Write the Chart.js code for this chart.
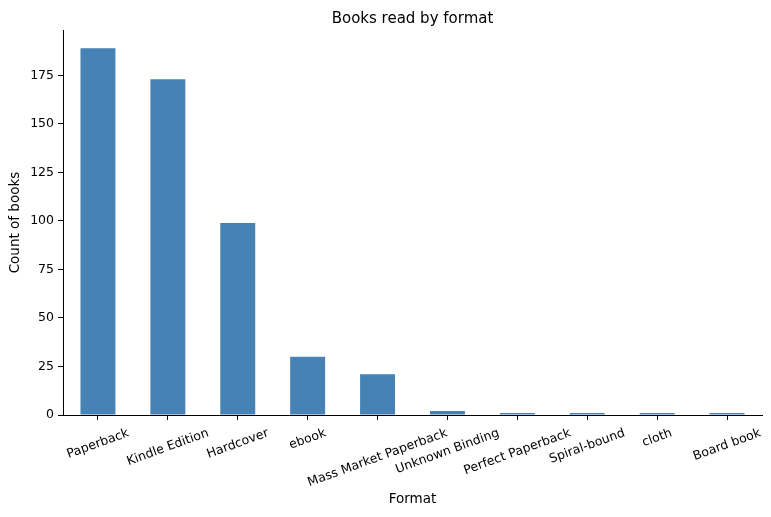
<!DOCTYPE html>
<html>
<head>
<meta charset="utf-8">
<script src="https://cdn.jsdelivr.net/npm/chart.js@4"></script>
<style>
  html, body { margin: 0; padding: 0; background: #fff; }
  #wrap { width: 771px; height: 517px; }
</style>
</head>
<body>
<div id="wrap"><canvas id="chart"></canvas></div>
<script>
// Books read, counted by format
const formats = ['Paperback', 'Kindle Edition', 'Hardcover', 'ebook', 'Mass Market Paperback',
    'Unknown Binding', 'Perfect Paperback', 'Spiral-bound', 'cloth', 'Board book'];
const bookCounts = [189, 173, 99, 30, 21, 2, 1, 1, 1, 1];
const yTicks = [0, 25, 50, 75, 100, 125, 150, 175];

const FONT = "'DejaVu Sans', sans-serif";
const TICK_SIZE = 12.5;
const LABEL_SIZE = 13.5;

// matplotlib-style rotated labels, centred under each tick
const rotatedLabels = {
    id: 'rotatedLabels',
    afterDraw(chart) {
        const xs = chart.scales.x;
        const ctx = chart.ctx;
        const a = 20 * Math.PI / 180;
        ctx.save();
        ctx.font = TICK_SIZE + 'px ' + FONT;
        ctx.fillStyle = '#000';
        ctx.textAlign = 'center';
        ctx.textBaseline = 'middle';
        formats.forEach((label, i) => {
            const w = ctx.measureText(label).width;
            const h = TICK_SIZE * 1.15;
            const x = xs.getPixelForTick(i);
            const y = xs.top + 11 + (w * Math.sin(a) + h * Math.cos(a)) / 2;
            ctx.save();
            ctx.translate(x, y);
            ctx.rotate(-a);
            ctx.fillText(label, 0, 0);
            ctx.restore();
        });
        ctx.restore();
    }
};

new Chart(document.getElementById('chart'), {
    type: 'bar',
    data: {
        labels: formats,
        datasets: [{
            label: 'Count of books',
            data: bookCounts,
            backgroundColor: '#4682B4',
            borderWidth: 0,
            barPercentage: 0.5,
            categoryPercentage: 1.0
        }]
    },
    options: {
        responsive: true,
        maintainAspectRatio: false,
        animation: false,
        layout: { padding: { left: 0, right: 9, top: 0, bottom: 0 } },
        plugins: {
            legend: { display: false },
            tooltip: { enabled: false }
        },
        scales: {
            // top axis only carries the chart title, centred over the plot area
            top: {
                type: 'category',
                position: 'top',
                afterFit(scale) { scale.height = 30; },
                grid: { display: false },
                border: { display: false },
                ticks: { display: false },
                title: {
                    display: true,
                    text: 'Books read by format',
                    color: '#000',
                    font: { family: FONT, size: 15 },
                    padding: { top: 10, bottom: 0 }
                }
            },
            x: {
                offset: true,
                afterFit(scale) { scale.height = 102; },
                grid: { display: true, offset: false, drawOnChartArea: false, drawTicks: true, tickLength: 5, color: '#000' },
                border: { display: true, color: '#000', width: 1 },
                ticks: { display: false },
                title: {
                    display: true,
                    text: 'Format',
                    color: '#000',
                    font: { family: FONT, size: LABEL_SIZE },
                    padding: { top: 0, bottom: 9 }
                }
            },
            y: {
                min: 0,
                max: 198.45,
                afterFit(scale) { scale.width = 63; },
                afterBuildTicks(scale) { scale.ticks = yTicks.map(v => ({ value: v })); },
                grid: { display: true, drawOnChartArea: false, drawTicks: true, tickLength: 5, color: '#000' },
                border: { display: true, color: '#000', width: 1 },
                ticks: {
                    color: '#000',
                    padding: 4,
                    font: { family: FONT, size: TICK_SIZE }
                },
                title: {
                    display: true,
                    text: 'Count of books',
                    color: '#000',
                    font: { family: FONT, size: LABEL_SIZE },
                    padding: { top: 7, bottom: 0 }
                }
            }
        }
    },
    plugins: [rotatedLabels]
});
</script>
</body>
</html>
